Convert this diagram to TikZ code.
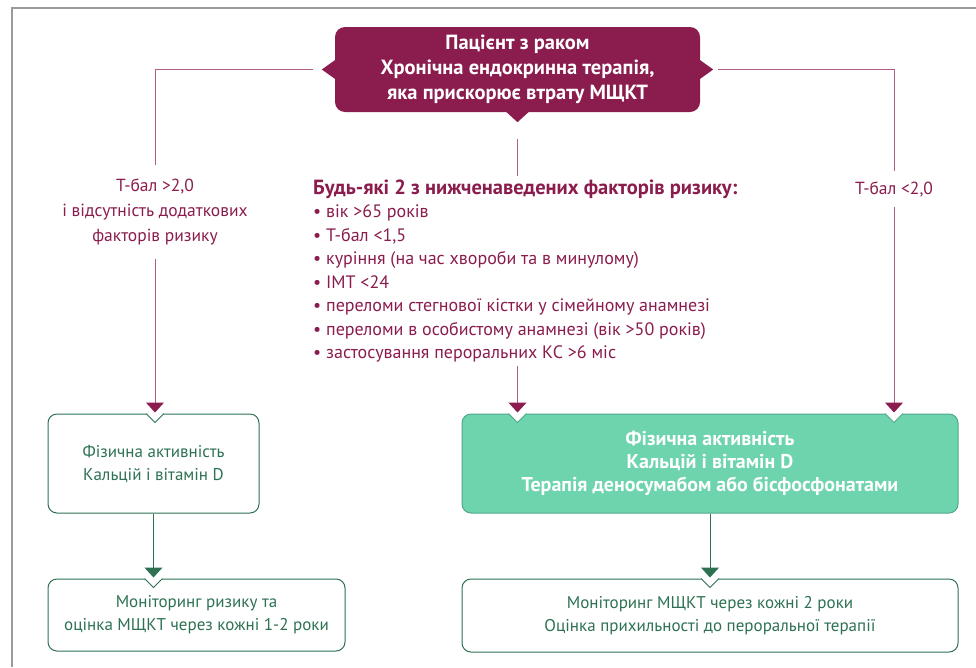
\documentclass[tikz,border=0pt]{standalone}
\usepackage{fontspec}
\setmainfont{PT Sans}
\usetikzlibrary{arrows.meta,positioning,calc}
\definecolor{oncomaroon}{HTML}{8A1C4E}
\definecolor{oncoline}{HTML}{B05C86}
\definecolor{oncogreen}{HTML}{2D7152}
\definecolor{oncomint}{HTML}{6DD4AE}
\definecolor{oncomintedge}{HTML}{4FA888}
\definecolor{oncoframe}{HTML}{9B9B9B}

% V cut in the top edge of a box, under an arrow
\newcommand\boxnotch[2]{%
  \fill[white] ($(#1)+(-10,-0.8)$) -- ($(#1)+(0,9)$) -- ($(#1)+(10,-0.8)$) -- cycle;
  \draw[#2,line width=1pt] ($(#1)+(-9,0)$) -- ($(#1)+(0,9)$) -- ($(#1)+(9,0)$);}

\begin{document}
\begin{tikzpicture}[x=1pt,y=-1pt,
  every node/.style={align=center,inner sep=0pt},
  lbl/.style={text=oncomaroon,font=\fontsize{17.5}{25}\selectfont},
  head/.style={fill=oncomaroon,text=white,rounded corners=10pt,minimum width=365pt,minimum height=85pt,font=\bfseries\fontsize{20.5}{25}\selectfont},
  plain/.style={draw=oncogreen,line width=1pt,rounded corners=9pt,text=oncogreen,font=\fontsize{17}{23}\selectfont},
  mint/.style={plain,draw=oncomintedge,fill=oncomint,text=white,font=\bfseries\fontsize{20}{23}\selectfont},
  link/.style={draw=oncoline,line width=1pt},
  linkm/.style={link,shorten >=1pt,-{Triangle[width=18pt,length=10pt,color=oncomaroon]}},
  linkg/.style={draw=oncogreen,line width=1pt,shorten >=1pt,-{Triangle[width=18pt,length=10pt,color=oncogreen]}}
]
\useasboundingbox (0,0) rectangle (976,667);
\draw[oncoframe,line width=1.5pt] (976,8) -- (12,8) -- (12,667);

\node[head] (patient) at (517.5,69.5) {Пацієнт з раком\\Хронічна ендокринна терапія,\\яка прискорює втрату МЩКТ};
\fill[oncomaroon] ($(patient.west)+(1,-10)$) -- ++(-14,10) -- ++(14,10) -- cycle;
\fill[oncomaroon] ($(patient.east)+(-1,-10)$) -- ++(14,10) -- ++(-14,10) -- cycle;
\fill[oncomaroon] ($(patient.south)+(-12,-1)$) -- ++(12,11) -- ++(12,-11) -- cycle;

\node[lbl,inner ysep=14pt] (lowlab) at (155,212) {Т-бал >2,0\\і відсутність додаткових\\факторів ризику};
\node[lbl,inner ysep=10pt] (highlab) at (894,189) {Т-бал <2,0};
\node[lbl,align=left,anchor=west,font=\fontsize{18}{23.5}\selectfont,inner ysep=3pt] (risks) at (313,271) {\textbf{\fontsize{20.5}{23.5}\selectfont Будь-які 2 з нижченаведених факторів ризику:}\\
  • вік >65 років\\
  • Т-бал <1,5\\
  • куріння (на час хвороби та в минулому)\\
  • ІМТ <24\\
  • переломи стегнової кістки у сімейному анамнезі\\
  • переломи в особистому анамнезі (вік >50 років)\\
  • застосування пероральних КС >6 міс};

\node[plain,minimum width=211pt,minimum height=99pt] (left1) at (153.5,463.5) {Фізична активність\\Кальцій і вітамін D};
\node[plain,minimum width=297pt,minimum height=72pt] (left2) at (196.5,615) {Моніторинг ризику та\\оцінка МЩКТ через кожні 1-2 роки};
\node[mint,minimum width=496pt,minimum height=99pt] (treat) at (710,463.5) {Фізична активність\\Кальцій і вітамін D\\Терапія деносумабом або бісфосфонатами};
\node[plain,minimum width=496pt,minimum height=73pt] (follow) at (710,615.5) {Моніторинг МЩКТ через кожні 2 роки\\Оцінка прихильності до пероральної терапії};

\boxnotch{lowlab.south |- left1.north}{oncogreen}
\boxnotch{patient.south |- treat.north}{oncomintedge}
\boxnotch{highlab.south |- treat.north}{oncomintedge}
\boxnotch{left1.south |- left2.north}{oncogreen}
\boxnotch{treat.south |- follow.north}{oncogreen}

\draw[link] ($(patient.west)+(-22,0)$) -| (lowlab.north);
\draw[link] ($(patient.east)+(18,0)$) -| (highlab.north);
\draw[link] ($(patient.south)+(0,27)$) -- (patient.south |- risks.north);
\draw[linkm] (lowlab.south) -- (lowlab.south |- left1.north);
\draw[linkm] (patient.south |- risks.south) -- (patient.south |- treat.north);
\draw[linkm] (highlab.south) -- (highlab.south |- treat.north);
\draw[linkg] (left1.south) -- (left1.south |- left2.north);
\draw[linkg] (treat.south) -- (treat.south |- follow.north);
\end{tikzpicture}
\end{document}
